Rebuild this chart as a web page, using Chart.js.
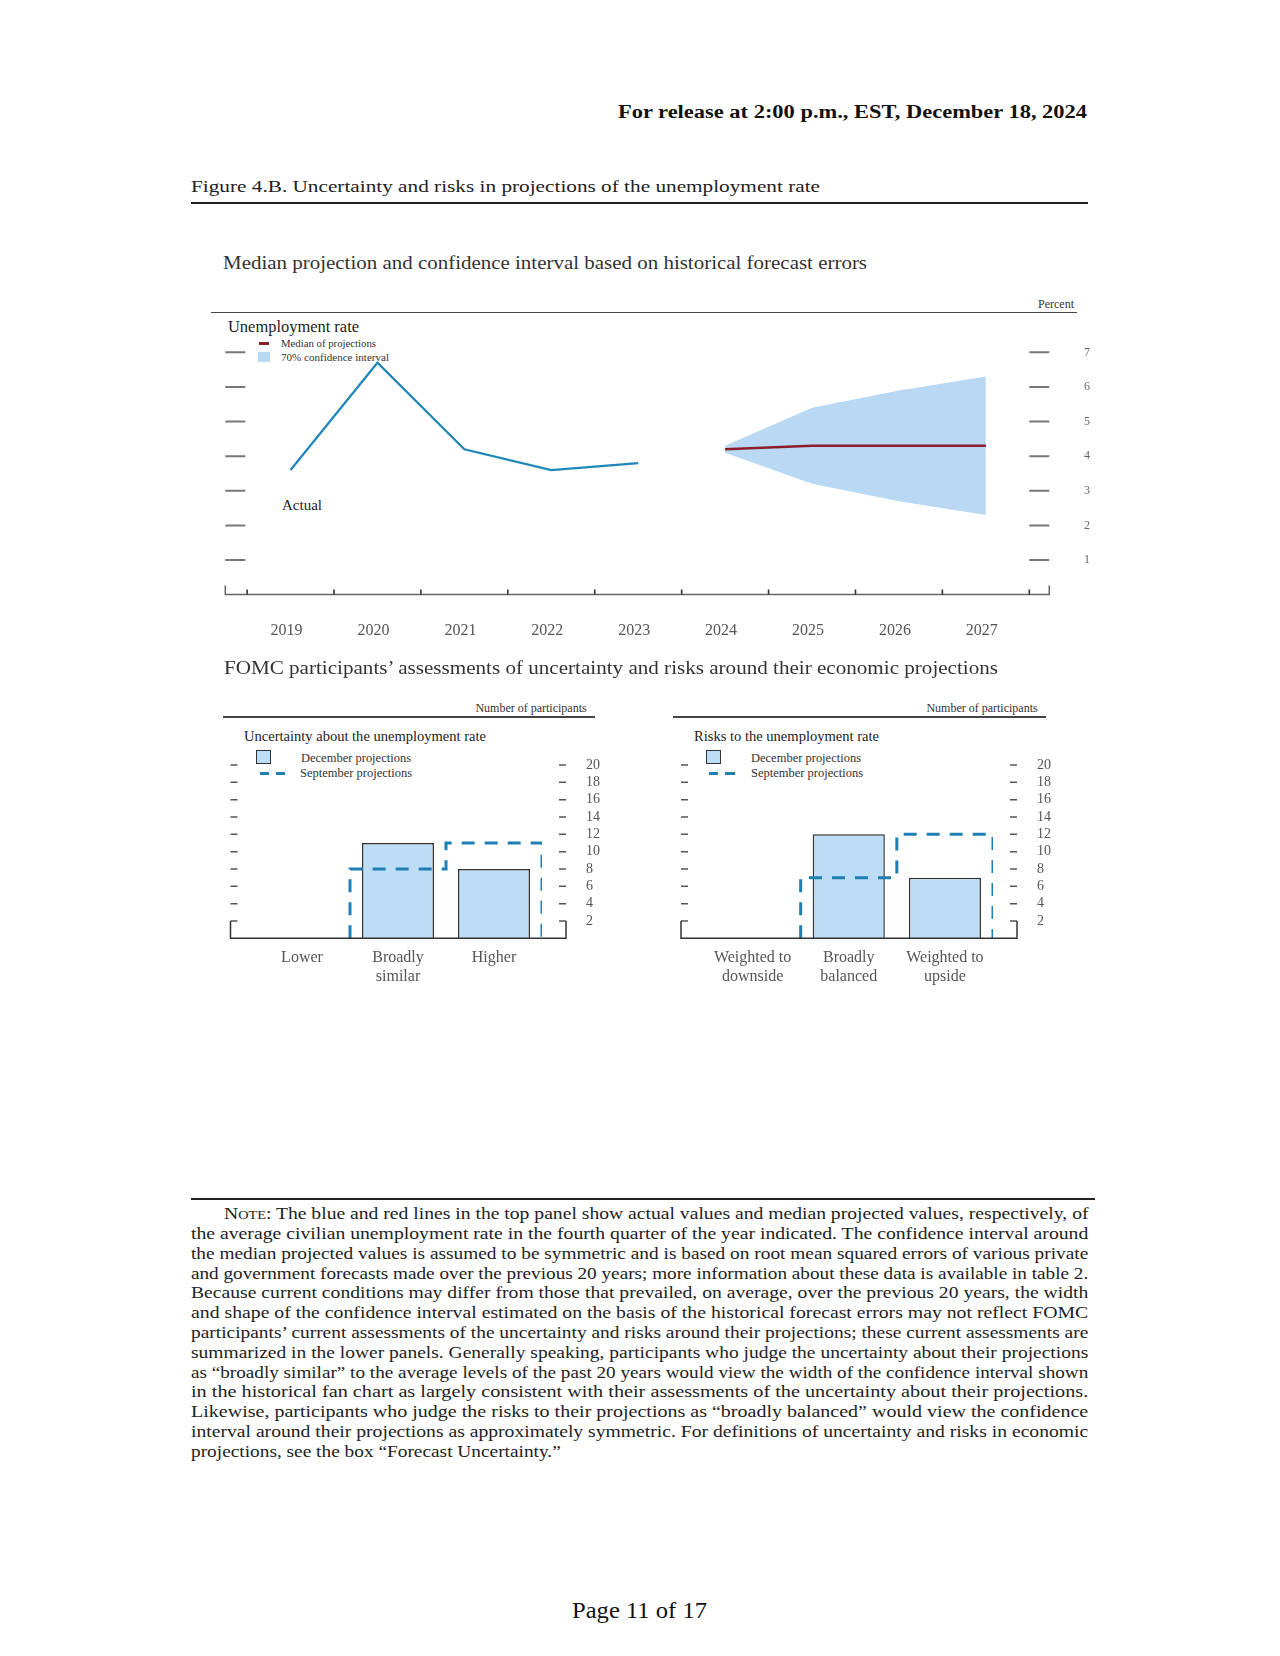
<!DOCTYPE html>
<html>
<head>
<meta charset="utf-8">
<script src="https://cdn.jsdelivr.net/npm/chart.js@4.4.1/dist/chart.umd.min.js"></script>
<style>
  body { margin: 0; background: #fff; }
  #page { position: relative; width: 1280px; height: 1656px; font-family: 'Liberation Serif', 'Times New Roman', serif; color: #222; }
  .t { position: absolute; white-space: nowrap; line-height: 1; }
  .rule { position: absolute; background: #222; }
  .sw { position: absolute; }
  canvas { position: absolute; }
</style>
</head>
<body>
<div id="page">
  <div class="t fit" data-w="469" style="left:618.3px; top:102.5px; font-size:18px; font-weight:bold; color:#111;">For release at 2:00 p.m., EST, December 18, 2024</div>
  <div class="t fit" data-w="629" style="left:191.2px; top:177.5px; font-size:17px;">Figure 4.B. Uncertainty and risks in projections of the unemployment rate</div>
  <div class="rule" style="left:191.2px; top:201.8px; width:896.6px; height:2px;"></div>

  <div class="t fit" data-w="644" style="left:222.8px; top:254px; font-size:18px; color:#333;">Median projection and confidence interval based on historical forecast errors</div>

  <!-- top panel header -->
  <div class="rule" style="left:210.5px; top:311.8px; width:866px; height:1.5px; background:#444;"></div>
  <div class="t" style="right:206px; top:298px; font-size:12px; color:#333;">Percent</div>
  <div class="t fit" data-w="131" style="left:228.3px; top:319px; font-size:16px;">Unemployment rate</div>
  <div class="sw" style="left:259.3px; top:342px; width:10px; height:2.6px; background:#8c1d2c;"></div>
  <div class="t fit" data-w="95" style="left:281px; top:337.8px; font-size:11px; color:#333;">Median of projections</div>
  <div class="sw" style="left:258.3px; top:351.7px; width:11.7px; height:10.6px; background:#b9d8f3;"></div>
  <div class="t fit" data-w="108" style="left:281px; top:351.5px; font-size:11px; color:#333;">70% confidence interval</div>
  <div class="t fit" data-w="40" style="left:282px; top:498.2px; font-size:15px; color:#222;">Actual</div>

  <canvas id="rateChart" width="920" height="360" style="left:200px; top:300px;"></canvas>

  <div class="t fit" data-w="774" style="left:223.9px; top:658.5px; font-size:18px; color:#333;">FOMC participants’ assessments of uncertainty and risks around their economic projections</div>

  <!-- lower left panel -->
  <div class="rule" style="left:222.7px; top:716px; width:372.3px; height:1.5px; background:#444;"></div>
  <div class="t" style="right:693.3px; top:702.3px; font-size:12px; color:#333;">Number of participants</div>
  <div class="t fit" data-w="242" style="left:244.3px; top:729.7px; font-size:14px;">Uncertainty about the unemployment rate</div>
  <div class="sw" style="left:256px; top:750px; width:14.7px; height:14.3px; box-sizing:border-box; border:1.5px solid #333; background:#bddcf5;"></div>
  <div class="t fit" data-w="110" style="left:301px; top:752.3px; font-size:12px; color:#333;">December projections</div>
  <div class="sw" style="left:259.5px; top:772px; width:9px; height:2.6px; background:#1f7fb3;"></div>
  <div class="sw" style="left:275.5px; top:772px; width:9.5px; height:2.6px; background:#1f7fb3;"></div>
  <div class="t fit" data-w="112" style="left:300px; top:766.7px; font-size:12px; color:#333;">September projections</div>
  <canvas id="uncChart" width="420" height="270" style="left:200px; top:740px;"></canvas>

  <!-- lower right panel -->
  <div class="rule" style="left:673.3px; top:716px; width:372.4px; height:1.5px; background:#444;"></div>
  <div class="t" style="right:242.3px; top:702.3px; font-size:12px; color:#333;">Number of participants</div>
  <div class="t fit" data-w="185" style="left:694.3px; top:729.7px; font-size:14px;">Risks to the unemployment rate</div>
  <div class="sw" style="left:706px; top:750px; width:14.7px; height:14.3px; box-sizing:border-box; border:1.5px solid #333; background:#bddcf5;"></div>
  <div class="t fit" data-w="110" style="left:751px; top:752.3px; font-size:12px; color:#333;">December projections</div>
  <div class="sw" style="left:709.3px; top:772px; width:9px; height:2.6px; background:#1f7fb3;"></div>
  <div class="sw" style="left:725.3px; top:772px; width:9.5px; height:2.6px; background:#1f7fb3;"></div>
  <div class="t fit" data-w="112" style="left:750.7px; top:766.7px; font-size:12px; color:#333;">September projections</div>
  <canvas id="riskChart" width="420" height="270" style="left:650px; top:740px;"></canvas>

  <!-- note -->
  <div class="rule" style="left:191.2px; top:1197.7px; width:903.8px; height:2px;"></div>
  <div id="note"></div>

  <div class="t fit" data-w="135" style="left:571.5px; top:1598px; font-size:24px; color:#111;">Page 11 of 17</div>
</div>

<script>
// ----------------------------
// DATA
// ----------------------------
const years = ["2019", "2020", "2021", "2022", "2023", "2024", "2025", "2026", "2027"];
const actualYears = ["2019", "2020", "2021", "2022", "2023"];
const actualRate = [3.6, 6.7, 4.2, 3.6, 3.8];
const projYears = ["2024", "2025", "2026", "2027"];
const medianRate = [4.2, 4.3, 4.3, 4.3];
const bandUpper = [4.3, 5.4, 5.9, 6.3];
const bandLower = [4.1, 3.2, 2.7, 2.3];
const rateTicks = [1, 2, 3, 4, 5, 6, 7];

const uncertaintyCats = ["Lower", ["Broadly", "similar"], "Higher"];
const uncertaintyDec = [0, 11, 8];
const uncertaintySep = [0, 8, 11];

const riskCats = [["Weighted to", "downside"], ["Broadly", "balanced"], ["Weighted to", "upside"]];
const riskDec = [0, 12, 7];
const riskSep = [0, 7, 12];

const participantTicks = [2, 4, 6, 8, 10, 12, 14, 16, 18, 20];

const noteLines = [
  "<span style=\"font-variant:small-caps\">Note:</span> The blue and red lines in the top panel show actual values and median projected values, respectively, of",
  "the average civilian unemployment rate in the fourth quarter of the year indicated. The confidence interval around",
  "the median projected values is assumed to be symmetric and is based on root mean squared errors of various private",
  "and government forecasts made over the previous 20 years; more information about these data is available in table 2.",
  "Because current conditions may differ from those that prevailed, on average, over the previous 20 years, the width",
  "and shape of the confidence interval estimated on the basis of the historical forecast errors may not reflect FOMC",
  "participants’ current assessments of the uncertainty and risks around their projections; these current assessments are",
  "summarized in the lower panels. Generally speaking, participants who judge the uncertainty about their projections",
  "as “broadly similar” to the average levels of the past 20 years would view the width of the confidence interval shown",
  "in the historical fan chart as largely consistent with their assessments of the uncertainty about their projections.",
  "Likewise, participants who judge the risks to their projections as “broadly balanced” would view the confidence",
  "interval around their projections as approximately symmetric. For definitions of uncertainty and risks in economic",
  "projections, see the box “Forecast Uncertainty.”"
];

// ----------------------------
// NOTE TEXT
// ----------------------------
const note = document.getElementById("note");
noteLines.forEach((line, i) => {
  const d = document.createElement("div");
  d.className = "t fit";
  d.innerHTML = line;
  const left = i === 0 ? 224 : 191.2;
  const w = i === noteLines.length - 1 ? 369.8 : 1088.5 - left;
  d.dataset.w = w;
  d.style.left = left + "px";
  d.style.top = (1214.5 + 19.8 * i - 8.25) + "px";
  d.style.fontSize = "16.5px";
  note.appendChild(d);
});

// stretch text horizontally to the widths measured on the page
function fitText(el) {
  const target = Number(el.dataset.w);
  const w = el.getBoundingClientRect().width;
  el.style.transformOrigin = "0 0";
  el.style.transform = "scaleX(" + (target / w).toFixed(4) + ")";
}
document.querySelectorAll(".fit").forEach(fitText);

// ----------------------------
// CHART HELPERS
// ----------------------------
Chart.defaults.font.family = "'Liberation Serif', 'Times New Roman', serif";
Chart.defaults.animation = false;

const frameLines = {
  id: "frameLines",
  afterDatasetsDraw(chart, args, o) {
    const ctx = chart.ctx;
    const { left, right } = chart.chartArea;
    const y = chart.scales.y;
    const y0 = y.getPixelForValue(0);
    const x0 = left - o.extL;
    const x1 = right + o.extR;
    const capTop = o.capValue != null ? y.getPixelForValue(o.capValue) : y0 - o.capPx;
    ctx.save();
    ctx.lineCap = "butt";
    // tick dashes at both frame ends
    ctx.strokeStyle = o.dashColor;
    ctx.lineWidth = o.dashWidth;
    y.ticks.forEach((t) => {
      if (t.value <= 0) return;
      const py = y.getPixelForValue(t.value);
      ctx.beginPath();
      ctx.moveTo(x0, py); ctx.lineTo(x0 + o.dashLen, py);
      ctx.moveTo(x1 - o.dashLen, py); ctx.lineTo(x1, py);
      ctx.stroke();
    });
    // baseline and end caps
    ctx.strokeStyle = o.lineColor;
    ctx.lineWidth = o.lineWidth;
    ctx.beginPath();
    ctx.moveTo(x0, capTop); ctx.lineTo(x0, y0); ctx.lineTo(x1, y0); ctx.lineTo(x1, capTop);
    ctx.stroke();
    // category boundary ticks
    if (o.boundaryTicks) {
      const x = chart.scales.x;
      ctx.strokeStyle = o.tickColor;
      ctx.lineWidth = o.tickWidth;
      ctx.beginPath();
      for (let i = 0; i <= x.getLabels().length; i++) {
        const px = x.getPixelForValue(i - 0.5);
        ctx.moveTo(px, y0); ctx.lineTo(px, y0 - o.tickLen);
      }
      ctx.stroke();
    }
    ctx.restore();
  },
};

function onYears(keys, vals) {
  return years.map((yr) => {
    const k = keys.indexOf(yr);
    return k === -1 ? null : vals[k];
  });
}

// outline of the September bars: runs along each bar top, steps at category edges
function stepPoints(vals) {
  const pts = [{ x: -0.5, y: 0 }];
  vals.forEach((v, i) => pts.push({ x: i - 0.5, y: v }, { x: i + 0.5, y: v }));
  pts.push({ x: vals.length - 0.5, y: 0 });
  return pts;
}

// ----------------------------
// TOP PANEL
// ----------------------------
new Chart(document.getElementById("rateChart"), {
  type: "line",
  data: {
    labels: years,
    datasets: [
      { data: onYears(actualYears, actualRate), borderColor: "#1f86b8", borderWidth: 2.2, pointRadius: 0, tension: 0 },
      { data: onYears(projYears, medianRate), borderColor: "#8c1d2c", borderWidth: 2.6, pointRadius: 0, tension: 0 },
      { data: onYears(projYears, bandUpper), borderWidth: 0, pointRadius: 0, fill: "+1", backgroundColor: "#b9d8f3", tension: 0 },
      { data: onYears(projYears, bandLower), borderWidth: 0, pointRadius: 0, fill: false, tension: 0 },
    ],
  },
  options: {
    responsive: false,
    layout: { padding: { top: 31.6, left: 47.1, right: 0, bottom: 0 } },
    plugins: {
      legend: { display: false },
      tooltip: { enabled: false },
      frameLines: { extL: 21.8, extR: 20, capPx: 9, dashLen: 20, dashColor: "#777", dashWidth: 2, lineColor: "#666", lineWidth: 1.5, boundaryTicks: true, tickLen: 5, tickColor: "#333", tickWidth: 1.6 },
    },
    scales: {
      x: {
        type: "category", offset: true,
        grid: { display: false, drawTicks: false }, border: { display: false },
        ticks: { padding: 26.5, labelOffset: -4, color: "#555", font: { size: 16 }, maxRotation: 0, autoSkip: false },
        afterFit: (s) => { s.height = 65.4; },
      },
      y: {
        position: "right", min: 0, max: 7.6,
        grid: { display: false, drawTicks: true, tickLength: 54.7 }, border: { display: false },
        ticks: { padding: 0, color: "#666", font: { size: 12 }, autoSkip: false },
        afterBuildTicks: (s) => { s.ticks = rateTicks.map((v) => ({ value: v })); },
        afterFit: (s) => { s.width = 90.7; },
      },
    },
  },
  plugins: [frameLines],
});

// ----------------------------
// LOWER PANELS
// ----------------------------
function participantChart(id, cats, dec, sep, padLeft, padRight) {
  return new Chart(document.getElementById(id), {
    type: "bar",
    data: {
      datasets: [
        {
          type: "line", data: stepPoints(sep),
          borderColor: "#1f7fb3", borderWidth: 3, borderDash: [13, 10], pointRadius: 0, fill: false, tension: 0,
          segment: { borderColor: (c) => (c.p0.parsed.y === 0 && c.p1.parsed.y === 0 ? "rgba(0,0,0,0)" : "#1f7fb3") },
        },
        {
          type: "bar", data: dec.map((v, i) => ({ x: i, y: v })),
          backgroundColor: "#bddcf5", borderColor: "#333", borderWidth: 1.5,
          barPercentage: 0.75, categoryPercentage: 1, grouped: false,
        },
      ],
    },
    options: {
      responsive: false,
      layout: { padding: { top: 12, left: padLeft, right: 0, bottom: 0 } },
      plugins: {
        legend: { display: false },
        tooltip: { enabled: false },
        frameLines: { extL: 23.5, extR: 24, capValue: 2, dashLen: 7, dashColor: "#555", dashWidth: 1.5, lineColor: "#333", lineWidth: 1.5, boundaryTicks: false },
      },
      scales: {
        x: {
          type: "linear", min: -0.5, max: cats.length - 0.5, offset: false,
          grid: { display: false, drawTicks: false, offset: false }, border: { display: false },
          ticks: {
            padding: 10.6, color: "#555", font: { size: 16, lineHeight: 1.17 }, maxRotation: 0, autoSkip: false,
            callback: (v, i) => cats[i],
          },
          afterBuildTicks: (s) => { s.ticks = cats.map((c, i) => ({ value: i })); },
          afterFit: (s) => { s.height = 71.7; },
        },
        y: {
          position: "right", min: 0, max: 21.5,
          grid: { display: false, drawTicks: true, tickLength: 44 }, border: { display: false },
          ticks: { padding: 0, color: "#555", font: { size: 14 }, autoSkip: false },
          afterBuildTicks: (s) => { s.ticks = participantTicks.map((v) => ({ value: v })); },
          afterFit: (s) => { s.width = padRight; },
        },
      },
    },
    plugins: [frameLines],
  });
}

participantChart("uncChart", uncertaintyCats, uncertaintyDec, uncertaintySep, 54, 78);
participantChart("riskChart", riskCats, riskDec, riskSep, 54.5, 77);
</script>
</body>
</html>
